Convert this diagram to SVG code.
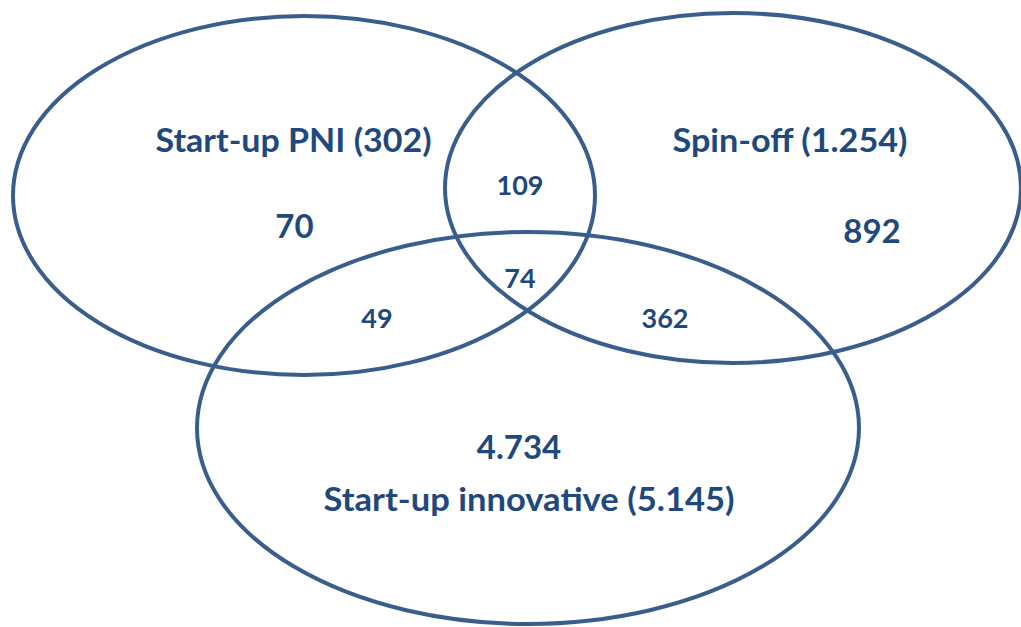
<svg xmlns="http://www.w3.org/2000/svg" width="1021" height="627" viewBox="0 0 1021 627">
<style>
.set{fill:none;stroke:#3A5E8C;stroke-width:4}
.t{font-family:Lato,"Open Sans","Liberation Sans",sans-serif;font-weight:bold;fill:#1F497D;text-anchor:middle}
.big{font-size:33px}
.small{font-size:27px}
</style>
<rect width="1021" height="627" fill="#ffffff"/>
<g id="sets">
<g id="start-up-pni"><ellipse class="set" cx="304" cy="195.5" rx="291" ry="179.5"/></g>
<g id="spin-off"><ellipse class="set" cx="733" cy="188" rx="288" ry="175"/></g>
<g id="start-up-innovative"><ellipse class="set" cx="528" cy="428" rx="331" ry="196"/></g>
</g>
<g id="labels">
<text class="t big" x="293.5" y="152" textLength="276" lengthAdjust="spacingAndGlyphs">Start-up PNI (302)</text>
<text class="t big" x="294.5" y="238">70</text>
<text class="t big" x="790" y="152" textLength="235" lengthAdjust="spacingAndGlyphs">Spin-off (1.254)</text>
<text class="t big" x="872" y="243">892</text>
<text class="t small" x="520" y="195">109</text>
<text class="t small" x="520" y="288">74</text>
<text class="t small" x="377" y="328">49</text>
<text class="t small" x="665" y="328">362</text>
<text class="t big" x="519" y="459">4.734</text>
<text class="t big" x="529" y="511" textLength="411" lengthAdjust="spacingAndGlyphs">Start-up innovative (5.145)</text>
</g>
</svg>
